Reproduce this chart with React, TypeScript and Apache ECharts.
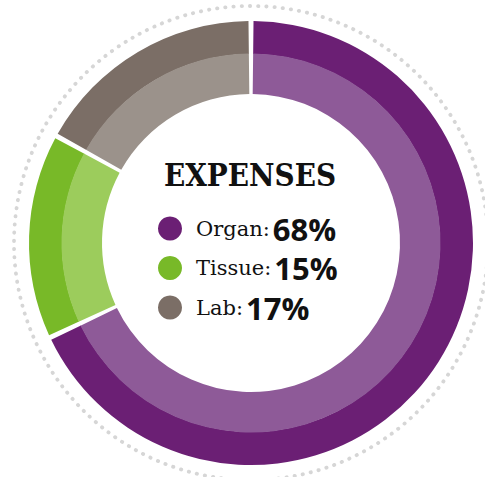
import React, { useEffect, useRef } from "react";
import * as echarts from "echarts";

const categories = ["Organ", "Tissue", "Lab"];
const values = [68, 15, 17];
const darkColors = ["#6b1f74", "#78b928", "#7b6e66"];
const lightColors = ["#8e5a98", "#9ccc5c", "#9b928b"];
const title = "EXPENSES";

export default function App() {
  const ref = useRef<HTMLDivElement>(null);
  useEffect(() => {
    if (!ref.current) return;
    const chart = echarts.init(ref.current, null, { renderer: "svg" });
    const cx = 251;
    const cy = 243;
    const pct: Record<string, number> = {};
    categories.forEach((c, i) => (pct[c] = values[i]));
    chart.setOption({
      animation: false,
      backgroundColor: "#ffffff",
      graphic: [
        {
          type: "circle",
          shape: { cx, cy, r: 237 },
          style: {
            fill: null,
            stroke: "#d6d6d6",
            lineWidth: 3.8,
            lineDash: [0.3, 7.9],
            lineCap: "round",
          },
          silent: true,
          z: 0,
        },
        {
          type: "text",
          x: 250,
          y: 175,
          style: {
            text: title,
            fontFamily: "'DejaVu Serif Condensed', 'Liberation Serif'",
            fontWeight: "bold",
            fontSize: 31,
            fill: "#111111",
            textAlign: "center",
            textVerticalAlign: "middle",
          },
          z: 10,
        },
      ],
      legend: {
        orient: "vertical",
        left: 158,
        top: 213,
        padding: 0,
        icon: "circle",
        itemWidth: 24,
        itemHeight: 24,
        itemGap: 8.5,
        selectedMode: false,
        data: categories,
        formatter: (name: string) => `{n|${name}:}{v|${pct[name]}%}`,
        textStyle: {
          rich: {
            n: {
              fontFamily: "DejaVu Serif",
              fontSize: 21,
              color: "#111111",
              padding: [0, 3, 0, 9],
              lineHeight: 32,
            },
            v: {
              fontFamily: "Open Sans",
              fontWeight: "bold",
              fontSize: 31,
              color: "#111111",
              lineHeight: 32,
            },
          },
        },
      },
      series: [
        {
          type: "pie",
          center: [cx, cy],
          radius: [189, 222],
          startAngle: 90,
          clockwise: true,
          padAngle: 1.3,
          label: { show: false },
          labelLine: { show: false },
          emphasis: { disabled: true },
          data: categories.map((c, i) => ({
            name: c,
            value: values[i],
            itemStyle: { color: darkColors[i] },
          })),
        },
        {
          type: "pie",
          center: [cx, cy],
          radius: [149, 189.5],
          startAngle: 90,
          clockwise: true,
          padAngle: 1.3,
          label: { show: false },
          labelLine: { show: false },
          emphasis: { disabled: true },
          data: categories.map((c, i) => ({
            name: c,
            value: values[i],
            itemStyle: { color: lightColors[i] },
          })),
        },
      ],
    });
    return () => chart.dispose();
  }, []);
  return (
    <div
      ref={ref}
      style={{ position: "fixed", left: 0, top: 0, width: 485, height: 477 }}
    />
  );
}
